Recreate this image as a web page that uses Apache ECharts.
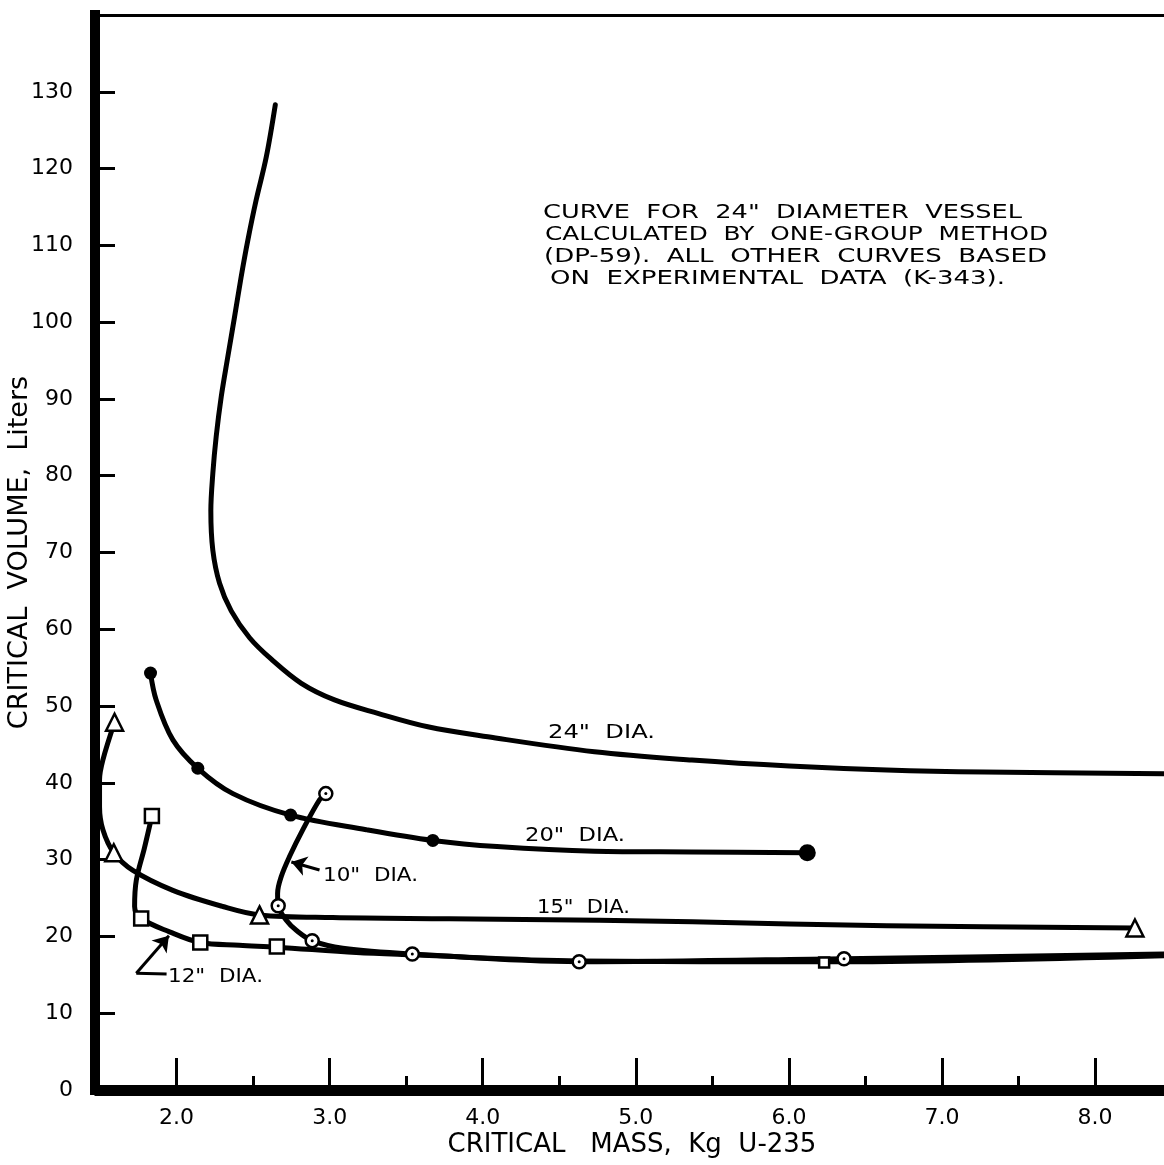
<!DOCTYPE html>
<html>
<head>
<meta charset="utf-8">
<script src="https://cdn.jsdelivr.net/npm/echarts@6/dist/echarts.min.js"></script>
<style>
html,body{margin:0;padding:0;background:#ffffff;}
#chart{width:1164px;height:1165px;}
</style>
</head>
<body>
<div id="chart"></div>
<script>
// ---------- data ----------
const xTickValues = [2, 3, 4, 5, 6, 7, 8];
const xMinorTickValues = [2.5, 3.5, 4.5, 5.5, 6.5, 7.5];
const yLabelValues = [0, 10, 20, 30, 40, 50, 60, 70, 80, 90, 100, 110, 120, 130];
const yTickValues = [10, 20, 30, 40, 50, 60, 70, 80, 90, 100, 110, 120, 130];

// 24" diameter (calculated, no markers)
const curve24 = [[2.645,128.3],[2.586,121.5],[2.52,115.9],[2.466,110.7],[2.422,105.9],[2.379,100.7],[2.335,95.5],[2.292,90.3],[2.259,85.1],[2.237,80.3],[2.224,75.4],[2.237,70.3],[2.281,66.0],[2.357,62.4],[2.477,58.9],[2.619,56.1],[2.815,52.96],[3.032,50.8],[3.315,49.05],[3.641,47.3],[4.033,46.0],[4.73,44.05],[5.366,42.97],[6.003,42.19],[6.639,41.67],[7.276,41.4],[8.45,41.2]];

// 20" diameter
const curve20 = [[1.83,54.3],[1.867,50.8],[1.976,45.6],[2.139,41.9],[2.368,38.6],[2.745,35.8],[3.239,33.9],[3.674,32.5],[4.093,31.7],[4.73,31.1],[5.366,31.0],[6.12,30.9]];
const points20 = [[1.83,54.3],[2.139,41.9],[2.745,35.8],[3.674,32.5],[6.12,30.9]];

// 15" diameter
const curve15 = [[1.595,47.9],[1.519,43.0],[1.497,40.4],[1.497,36.9],[1.519,33.9],[1.59,30.9],[1.715,28.6],[1.976,26.0],[2.302,23.9],[2.542,22.8],[3.02,22.45],[3.78,22.3],[4.76,22.1],[5.37,21.9],[6.64,21.4],[8.26,21.1]];
const points15 = [[1.595,47.9],[1.59,30.9],[2.542,22.8],[8.26,21.1]];

// 12" diameter
const curve12 = [[1.839,35.7],[1.79,31.5],[1.737,27.3],[1.726,23.9],[1.769,22.35],[1.954,20.6],[2.155,19.2],[2.41,18.85],[2.655,18.6],[3.174,17.9],[3.54,17.6],[4.63,16.8],[6.23,16.7],[8.45,17.5]];
const points12 = [[1.839,35.7],[1.769,22.35],[2.155,19.2],[2.655,18.7],[6.23,16.6]];

// 10" diameter
const curve10 = [[2.975,38.6],[2.934,37.8],[2.825,33.9],[2.738,30.4],[2.684,27.8],[2.66,25.6],[2.664,24.0],[2.717,22.1],[2.782,20.8],[2.886,19.45],[3.086,18.45],[3.54,17.7],[4.63,16.7],[6.36,17.1],[8.45,17.7]];
const points10 = [[2.975,38.6],[2.664,24.0],[2.886,19.45],[3.54,17.7],[4.63,16.7],[6.36,17.1]];

// label pointer arrows (data units: tail -> head)
const arrow10 = [[2.934,28.65],[2.75,29.7]];
const arrow12 = [[1.737,15.2],[1.95,20.1]];
const arrow12Tail = [1.935,15.1];

// ---------- chart ----------
const FONT = 'DejaVu Sans';
const BLACK = '#000000';
const chart = echarts.init(document.getElementById('chart'), null, {renderer: 'canvas'});

const measureCtx = document.createElement('canvas').getContext('2d');
function fitText(str, left, cy, size, width) {
  measureCtx.font = size + 'px "' + FONT + '"';
  const w = measureCtx.measureText(str).width;
  return {
    type: 'text', x: left, y: cy, scaleX: width / w, silent: true, z: 100,
    style: {text: str, fontSize: size, fontFamily: FONT, fill: BLACK, align: 'left', verticalAlign: 'middle'}
  };
}

const lineBase = (name, data) => ({
  name: name, type: 'line', data: data, smooth: 0.35, showSymbol: false, symbol: 'none',
  lineStyle: {color: BLACK, width: 5, cap: 'round', join: 'round'}, z: 2, silent: true
});

const X_MIN = 1.5, X_MAX = 8.45;
const gridBox = {left: 100, right: 0, top: 15, bottom: 75, containLabel: false, outerBoundsMode: 'none'};

const option = {
  animation: false,
  backgroundColor: '#ffffff',
  grid: [Object.assign({}, gridBox), Object.assign({}, gridBox)],
  xAxis: [
    {
      type: 'value', gridIndex: 0, position: 'bottom', min: X_MIN, max: X_MAX,
      name: 'CRITICAL   MASS,  Kg  U-235', nameLocation: 'middle', nameGap: 42, nameMoveOverlap: false,
      nameTextStyle: {fontFamily: FONT, fontSize: 26, color: BLACK},
      axisLine: {show: true, lineStyle: {color: BLACK, width: 11, cap: 'square'}},
      axisTick: {show: true, inside: true, length: 32, customValues: xTickValues, lineStyle: {color: BLACK, width: 3}},
      axisLabel: {show: true, customValues: xTickValues, margin: 17, fontFamily: FONT, fontSize: 22, color: BLACK,
                  formatter: v => v.toFixed(1)},
      splitLine: {show: false}
    },
    {
      type: 'value', gridIndex: 0, position: 'top', min: X_MIN, max: X_MAX,
      axisLine: {show: true, lineStyle: {color: BLACK, width: 3}},
      axisTick: {show: false}, axisLabel: {show: false}, splitLine: {show: false}
    },
    {
      type: 'value', gridIndex: 1, position: 'bottom', min: X_MIN, max: X_MAX,
      axisLine: {show: false},
      axisTick: {show: true, inside: true, length: 14, customValues: xMinorTickValues, lineStyle: {color: BLACK, width: 3}},
      axisLabel: {show: false}, splitLine: {show: false}
    }
  ],
  yAxis: [
    {
      type: 'value', gridIndex: 0, min: 0, max: 140, offset: 5,
      name: 'CRITICAL  VOLUME,  Liters', nameLocation: 'middle', nameGap: 62, nameMoveOverlap: false,
      nameTextStyle: {fontFamily: FONT, fontSize: 27, color: BLACK},
      axisLine: {show: true, lineStyle: {color: BLACK, width: 10, cap: 'square'}},
      axisTick: {show: true, inside: true, length: 20, customValues: yTickValues, lineStyle: {color: BLACK, width: 3}},
      axisLabel: {show: true, customValues: yLabelValues, margin: 22, fontFamily: FONT, fontSize: 22, color: BLACK},
      splitLine: {show: false}
    },
    {type: 'value', gridIndex: 1, min: 0, max: 140, show: false}
  ],
  series: [
    lineBase('24" DIA.', curve24),
    lineBase('20" DIA.', curve20),
    lineBase('15" DIA.', curve15),
    lineBase('12" DIA.', curve12),
    lineBase('10" DIA.', curve10),
    {
      name: '20" DIA. points', type: 'scatter', data: points20, symbol: 'circle',
      symbolSize: (v, p) => p.dataIndex === points20.length - 1 ? 17 : 13,
      itemStyle: {color: BLACK, opacity: 1}, z: 4, silent: true
    },
    {
      name: '15" DIA. points', type: 'scatter', data: points15, symbol: 'triangle', symbolSize: 17,
      itemStyle: {color: '#ffffff', borderColor: BLACK, borderWidth: 2.5, opacity: 1}, z: 4, silent: true
    },
    {
      name: '12" DIA. points', type: 'scatter', data: points12, symbol: 'rect',
      symbolSize: (v, p) => p.dataIndex === points12.length - 1 ? 10 : 14,
      itemStyle: {color: '#ffffff', borderColor: BLACK, borderWidth: 2.5, opacity: 1}, z: 4, silent: true
    },
    {
      name: '10" DIA. points', type: 'scatter', data: points10, symbol: 'circle', symbolSize: 13,
      itemStyle: {color: '#ffffff', borderColor: BLACK, borderWidth: 2.5, opacity: 1}, z: 4, silent: true
    },
    {
      name: '10" DIA. point dots', type: 'scatter', data: points10, symbol: 'circle', symbolSize: 3,
      itemStyle: {color: BLACK, opacity: 1}, z: 5, silent: true
    },
    {
      name: 'pointers', type: 'scatter', data: [], silent: true,
      markLine: {
        silent: true, animation: false, symbol: ['none', 'arrow'], symbolSize: 15,
        lineStyle: {color: BLACK, width: 3, type: 'solid', opacity: 1},
        itemStyle: {color: BLACK},
        label: {show: false}, emphasis: {disabled: true},
        data: [
          [{coord: arrow10[0]}, {coord: arrow10[1]}],
          [{coord: arrow12[0]}, {coord: arrow12[1]}],
          [{coord: arrow12[0], symbol: 'none'}, {coord: arrow12Tail, symbol: 'none'}]
        ]
      }
    }
  ],
  graphic: {
    elements: [
      fitText('CURVE  FOR  24"  DIAMETER  VESSEL', 543, 213, 19, 479),
      fitText('CALCULATED  BY  ONE-GROUP  METHOD', 545, 235, 19, 503),
      fitText('(DP-59).  ALL  OTHER  CURVES  BASED', 544, 257, 19, 503),
      fitText('ON  EXPERIMENTAL  DATA  (K-343).', 550, 279, 19, 455),
      fitText('24"  DIA.', 548, 733, 20, 107),
      fitText('20"  DIA.', 525, 836, 20, 100),
      fitText('15"  DIA.', 537, 908, 20, 93),
      fitText('10"  DIA.', 323, 876, 20, 95),
      fitText('12"  DIA.', 168, 977, 20, 95)
    ]
  }
};

chart.setOption(option);
</script>
</body>
</html>
